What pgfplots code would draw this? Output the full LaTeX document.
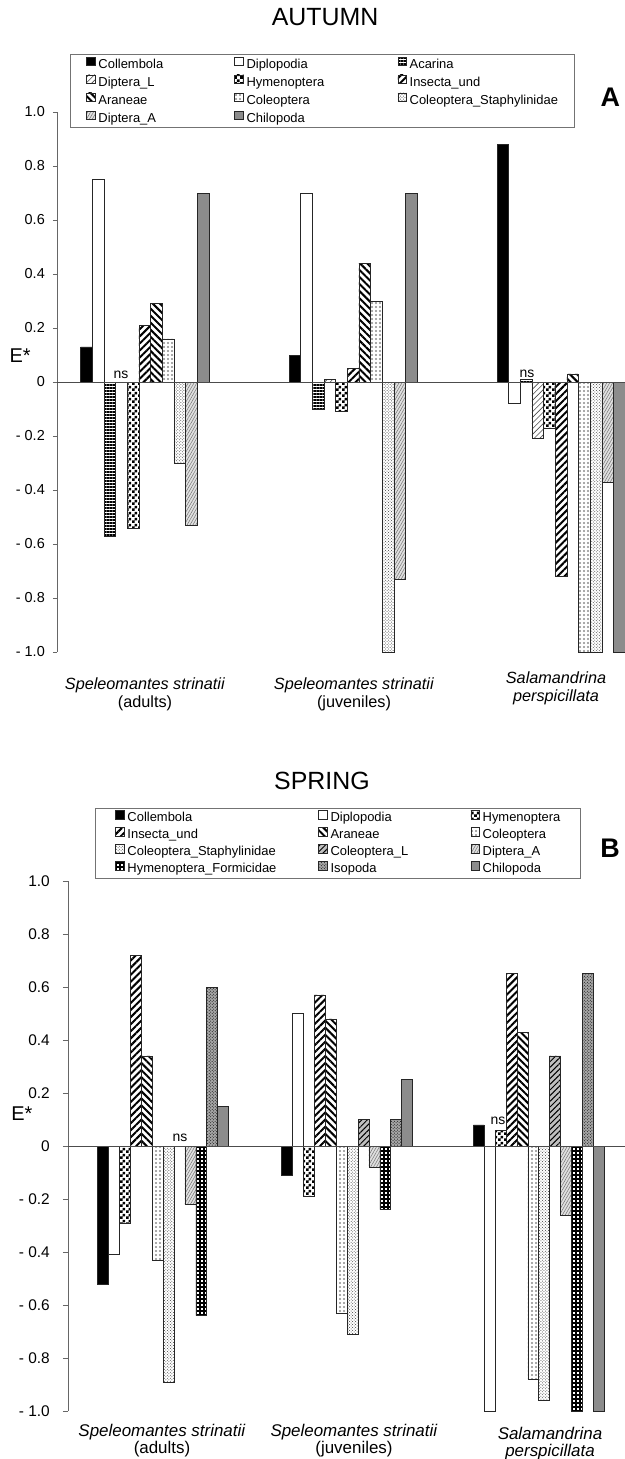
\documentclass[border=0pt]{standalone}
\usepackage{fontspec}
\setmainfont{Liberation Sans}
\usepackage{pgfplots}
\pgfplotsset{compat=1.18}
\usepackage{pgfplotstable}
\usetikzlibrary{patterns,patterns.meta}

\pgfdeclarepattern{
  name=finecheck,
  parameters={},
  bottom left={\pgfpoint{0bp}{0bp}},
  top right={\pgfpoint{6bp}{6bp}},
  tile size={\pgfpoint{6bp}{6bp}},
  code={
    \pgfpathrectangle{\pgfpoint{0bp}{0bp}}{\pgfpoint{3bp}{3bp}}
    \pgfpathrectangle{\pgfpoint{3bp}{3bp}}{\pgfpoint{3bp}{3bp}}
    \pgfusepath{fill}
  }
}

% Autumn: E* per prey group; start = left edge of each bar group
\pgfplotstableread{
start Collembola Diplopodia Acarina DipteraL Hymenoptera Insecta Araneae Coleoptera Staph DipteraA Chilopoda
80.7   0.13  0.75 -0.57  0.00 -0.54  0.21  0.29  0.16 -0.30 -0.53  0.70
289.0  0.10  0.70 -0.10  0.01 -0.11  0.05  0.44  0.30 -1.00 -0.73  0.70
497.0  0.88 -0.08  0.01 -0.21 -0.17 -0.72  0.03 -1.00 -1.00 -0.37 -1.00
}\autumn

\pgfplotstableread{
start Collembola Diplopodia Hymenoptera Insecta Araneae Coleoptera Staph ColeopteraL DipteraA Formicidae Isopoda Chilopoda
97.7  -0.52 -0.41 -0.29  0.72  0.34 -0.43 -0.89  0.00 -0.22 -0.64  0.60  0.15
281.7 -0.11  0.50 -0.19  0.57  0.48 -0.63 -0.71  0.10 -0.08 -0.24  0.10  0.25
473.3  0.08 -1.00  0.06  0.65  0.43 -0.88 -0.96  0.34 -0.26 -1.00  0.65 -1.00
}\spring

\tikzset{
 bo/.style={draw=black!85, line width=0.6bp},
 sCol/.style={bo, fill=black},
 sDip/.style={bo, fill=white},
 sAca/.style={bo, pattern={Lines[angle=0,distance=3bp,line width=1.2bp]}},
 sDipL/.style={bo, pattern={Lines[angle=45,distance=4bp,line width=0.6bp]}, pattern color=black!70},
 sHym/.style={bo, pattern=finecheck},
 sIns/.style={bo, pattern={Lines[angle=45,distance=5bp,line width=2bp]}},
 sAra/.style={bo, pattern={Lines[angle=-45,distance=5bp,line width=2bp]}},
 sCoe/.style={bo, pattern={Dots[distance=4bp,radius=1.1bp]}, pattern color=black!45},
 sSta/.style={bo, pattern=crosshatch dots, pattern color=black!75},
 sDipA/.style={bo, fill=black!12, postaction={pattern={Lines[angle=60,distance=2.5bp,line width=0.5bp]}, pattern color=black!55}},
 sChi/.style={bo, fill=black!45},
 sCoL/.style={bo, fill=black!25, postaction={pattern={Lines[angle=45,distance=4bp,line width=1bp]}}},
 sFor/.style={bo, pattern={Hatch[angle=0,distance=4bp,line width=2bp]}},
 sIso/.style={bo, fill=black!35, postaction={pattern=crosshatch dots}},
}
\pgfplotsset{
 bA/.style={ybar, bar width=11.65, bar shift=0pt,
   legend image code/.code={\draw[##1] (0bp,-0.5bp) rectangle (8.5bp,8bp);}},
 bS/.style={ybar, bar width=10.9, bar shift=0pt,
   legend image code/.code={\draw[##1] (0bp,-0.5bp) rectangle (8.5bp,8bp);}},
 common/.style={
   scale only axis, clip mode=individual,
   ymin=-1, ymax=1,
   ytick={-1,-0.8,-0.6,-0.4,-0.2,0,0.2,0.4,0.6,0.8,1},
   yticklabels={- 1.0,- 0.8,- 0.6,- 0.4,- 0.2,0,0.2,0.4,0.6,0.8,1.0},
   axis x line*=bottom, axis y line*=left,
   x axis line style={draw=none},
   y axis line style={black!60, line width=0.8bp},
   xtick style={draw=none},
   ytick style={black!60, line width=0.8bp},
   tick align=outside, major tick length=4bp,
   yticklabel style={anchor=east, inner sep=0pt},
   xticklabel style={align=center, anchor=north, inner sep=0pt},
   legend columns=3, legend cell align=left,
 },
}
\newcommand{\lwa}[1]{\makebox[136bp][l]{#1}}
\newcommand{\lwb}[1]{\makebox[151bp][l]{#1}}
\newcommand{\lwc}[1]{\makebox[191bp][l]{#1}}
\newcommand{\lwd}[1]{\makebox[140bp][l]{#1}}

\begin{document}
\begin{tikzpicture}
\path[fill=white, use as bounding box] (0,0) rectangle (625bp,-1459bp);

%================ AUTUMN =================
\begin{axis}[common,
  at={(57bp,-652bp)}, anchor=south west,
  width=568bp, height=540bp,
  xmin=57, xmax=625,
  xtick={145,354},
  xticklabels={{\textit{Speleomantes strinatii}\\(adults)},{\textit{Speleomantes strinatii}\\(juveniles)}},
  xticklabel style={font=\fontsize{16.3}{17.5}\selectfont, yshift=-22bp},
  extra x ticks={556},
  extra x tick labels={{\textit{Salamandrina}\\\textit{perspicillata}}},
  extra x tick style={xticklabel style={yshift=6bp}},
  yticklabel style={font=\fontsize{14.5}{14.5}\selectfont, xshift=-8bp},
  ylabel={E*},
  ylabel style={rotate=-90, font=\fontsize{20}{20}\selectfont, at={(axis description cs:-0.065,0.548)}, anchor=center},
  title={AUTUMN},
  title style={at={(axis description cs:0.472,1.165)}, anchor=center, font=\fontsize{25}{25}\selectfont},
  legend style={at={(axis description cs:0.0229,1.107)}, anchor=north west,
    draw=black!55, line width=0.7bp, font=\fontsize{13}{13}\selectfont,
    inner xsep=16bp, inner ysep=2bp, row sep=3.5bp, column sep=0pt,
    nodes={inner sep=0pt, text height=9.5bp, text depth=3bp},
    /tikz/every odd column/.append style={column sep=3bp}},
]
\addplot[bA, sCol]  table[x expr=\thisrow{start}+0.5*11.65,  y=Collembola]{\autumn};
\addplot[bA, sDip]  table[x expr=\thisrow{start}+1.5*11.65,  y=Diplopodia]{\autumn};
\addplot[bA, sAca]  table[x expr=\thisrow{start}+2.5*11.65,  y=Acarina]{\autumn};
\addplot[bA, sDipL] table[x expr=\thisrow{start}+3.5*11.65,  y=DipteraL]{\autumn};
\addplot[bA, sHym]  table[x expr=\thisrow{start}+4.5*11.65,  y=Hymenoptera]{\autumn};
\addplot[bA, sIns]  table[x expr=\thisrow{start}+5.5*11.65,  y=Insecta]{\autumn};
\addplot[bA, sAra]  table[x expr=\thisrow{start}+6.5*11.65,  y=Araneae]{\autumn};
\addplot[bA, sCoe]  table[x expr=\thisrow{start}+7.5*11.65,  y=Coleoptera]{\autumn};
\addplot[bA, sSta]  table[x expr=\thisrow{start}+8.5*11.65,  y=Staph]{\autumn};
\addplot[bA, sDipA] table[x expr=\thisrow{start}+9.5*11.65,  y=DipteraA]{\autumn};
\addplot[bA, sChi]  table[x expr=\thisrow{start}+10.5*11.65, y=Chilopoda]{\autumn};
\addplot[black!70, line width=0.8bp, forget plot] coordinates {(57,0) (625,0)};
\legend{\lwa{Collembola},\lwb{Diplopodia},Acarina,
        \lwa{Diptera\_L},\lwb{Hymenoptera},Insecta\_und,
        \lwa{Araneae},\lwb{Coleoptera},Coleoptera\_Staphylinidae,
        \lwa{Diptera\_A},\lwb{Chilopoda}}
\node[font=\fontsize{14}{14}\selectfont] at (axis cs:121,0.026) {ns};
\node[font=\fontsize{14}{14}\selectfont] at (axis cs:527,0.030) {ns};
\node[font=\bfseries\fontsize{27}{27}\selectfont] at (axis description cs:0.974,1.028) {A};
\end{axis}

%================ SPRING =================
\begin{axis}[common,
  at={(68bp,-1411bp)}, anchor=south west,
  width=557bp, height=530bp,
  xmin=68, xmax=625,
  xtick={162,354},
  xticklabels={{\textit{Speleomantes strinatii}\\(adults)},{\textit{Speleomantes strinatii}\\(juveniles)}},
  xticklabel style={font=\fontsize{17}{17.5}\selectfont, yshift=-8bp},
  extra x ticks={550},
  extra x tick labels={{\textit{Salamandrina}\\\textit{perspicillata}}},
  extra x tick style={xticklabel style={yshift=-3bp}},
  yticklabel style={font=\fontsize{15.5}{15.5}\selectfont, xshift=-13bp},
  major tick length=5bp,
  ylabel={E*},
  ylabel style={rotate=-90, font=\fontsize{20}{20}\selectfont, at={(axis description cs:-0.083,0.562)}, anchor=center},
  title={SPRING},
  title style={at={(axis description cs:0.456,1.177)}, anchor=center, font=\fontsize{25}{25}\selectfont},
  legend style={at={(axis description cs:0.0485,1.138)}, anchor=north west,
    draw=black!55, line width=0.7bp, font=\fontsize{13}{13}\selectfont,
    inner xsep=20bp, inner ysep=2bp, row sep=2.5bp, column sep=0pt,
    nodes={inner sep=0pt, text height=9.5bp, text depth=3bp},
    /tikz/every odd column/.append style={column sep=3bp}},
]
\addplot[bS, sCol]  table[x expr=\thisrow{start}+0.5*10.9,  y=Collembola]{\spring};
\addplot[bS, sDip]  table[x expr=\thisrow{start}+1.5*10.9,  y=Diplopodia]{\spring};
\addplot[bS, sHym]  table[x expr=\thisrow{start}+2.5*10.9,  y=Hymenoptera]{\spring};
\addplot[bS, sIns]  table[x expr=\thisrow{start}+3.5*10.9,  y=Insecta]{\spring};
\addplot[bS, sAra]  table[x expr=\thisrow{start}+4.5*10.9,  y=Araneae]{\spring};
\addplot[bS, sCoe]  table[x expr=\thisrow{start}+5.5*10.9,  y=Coleoptera]{\spring};
\addplot[bS, sSta]  table[x expr=\thisrow{start}+6.5*10.9,  y=Staph]{\spring};
\addplot[bS, sCoL]  table[x expr=\thisrow{start}+7.5*10.9,  y=ColeopteraL]{\spring};
\addplot[bS, sDipA] table[x expr=\thisrow{start}+8.5*10.9,  y=DipteraA]{\spring};
\addplot[bS, sFor]  table[x expr=\thisrow{start}+9.5*10.9,  y=Formicidae]{\spring};
\addplot[bS, sIso]  table[x expr=\thisrow{start}+10.5*10.9, y=Isopoda]{\spring};
\addplot[bS, sChi]  table[x expr=\thisrow{start}+11.5*10.9, y=Chilopoda]{\spring};
\addplot[black!70, line width=0.8bp, forget plot] coordinates {(68,0) (625,0)};
\legend{\lwc{Collembola},\lwd{Diplopodia},Hymenoptera,
        \lwc{Insecta\_und},\lwd{Araneae},Coleoptera,
        \lwc{Coleoptera\_Staphylinidae},\lwd{Coleoptera\_L},Diptera\_A,
        \lwc{Hymenoptera\_Formicidae},\lwd{Isopoda},Chilopoda}
\node[font=\fontsize{14}{14}\selectfont] at (axis cs:180,0.030) {ns};
\node[font=\fontsize{14}{14}\selectfont] at (axis cs:498,0.094) {ns};
\node[font=\bfseries\fontsize{27}{27}\selectfont] at (axis description cs:0.973,1.062) {B};
\end{axis}
\end{tikzpicture}
\end{document}
